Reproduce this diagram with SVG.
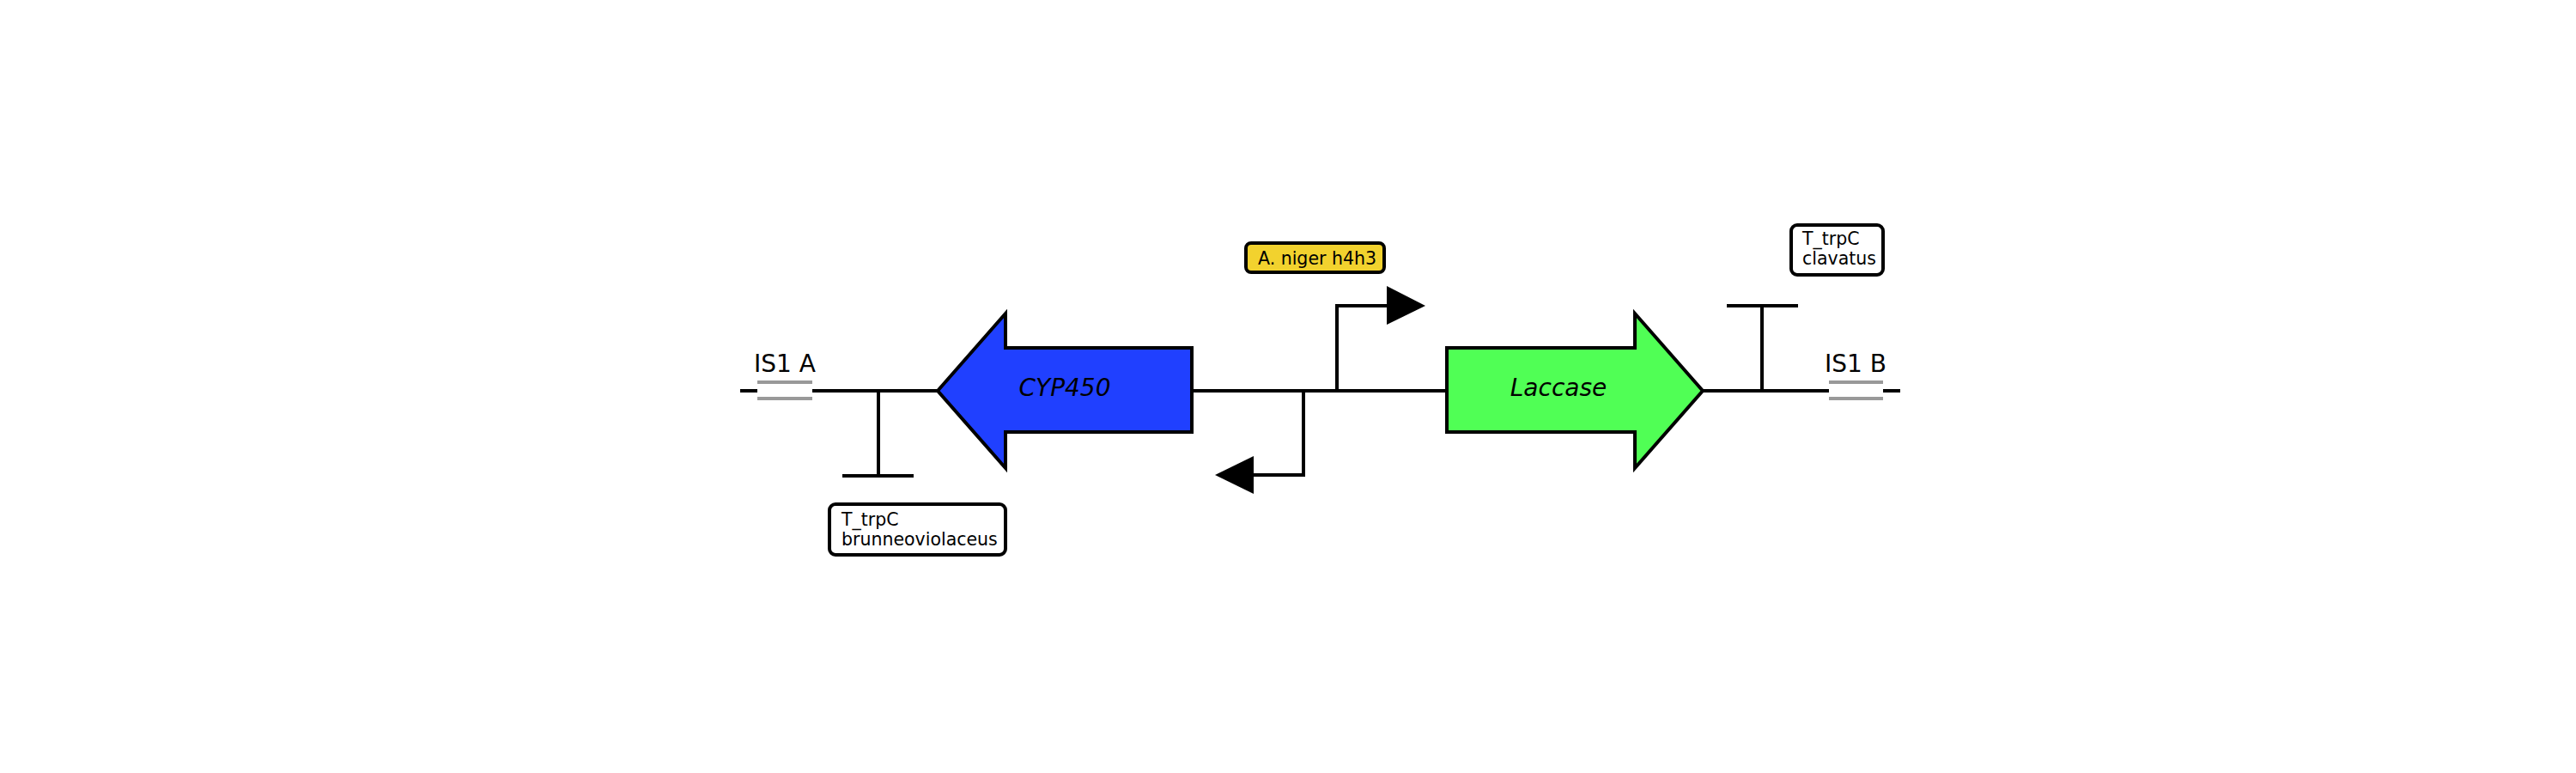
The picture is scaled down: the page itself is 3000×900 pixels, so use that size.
<svg xmlns="http://www.w3.org/2000/svg" width="3000" height="900" viewBox="0 0 3000 900">
<style>
.bb{stroke:#000;stroke-width:4;fill:none;stroke-linecap:butt}
.gr{stroke:#999;stroke-width:4;fill:none}
.gene{stroke:#000;stroke-width:4;stroke-linejoin:miter}
.lbl{font-family:"DejaVu Sans",sans-serif;fill:#000}
.box{stroke:#000;stroke-width:4}
</style>
<rect width="3000" height="900" fill="#fff"/>
<g id="connectors">
<line class="bb" x1="862" y1="455" x2="882" y2="455"/>
<line class="bb" x1="946" y1="455" x2="1092" y2="455"/>
<line class="bb" x1="1388" y1="455" x2="1685" y2="455"/>
<line class="bb" x1="1983" y1="455" x2="2130" y2="455"/>
<line class="bb" x1="2193" y1="455" x2="2213" y2="455"/>
</g>
<g id="is1a">
<line class="gr" x1="882" y1="445" x2="946" y2="445"/>
<line class="gr" x1="882" y1="464" x2="946" y2="464"/>
<text class="lbl" x="914" y="433" font-size="28" text-anchor="middle">IS1 A</text>
</g>
<g id="term1">
<path class="bb" d="M1023 455 V554 M981 554 H1064"/>
<rect class="box" x="966" y="587" width="205" height="59" rx="7" fill="#fff"/>
<text class="lbl" font-size="20.5"><tspan x="980" y="612">T_trpC</tspan><tspan x="980" y="635">brunneoviolaceus</tspan></text>
</g>
<g id="cyp450">
<polygon class="gene" fill="#2040ff" points="1092,455 1171,365 1171,405 1388,405 1388,503 1171,503 1171,545"/>
<text class="lbl" x="1240" y="461" font-size="28" font-style="italic" text-anchor="middle">CYP450</text>
</g>
<g id="promoter-rev">
<path class="bb" d="M1518 455 V553 H1460"/>
<polygon points="1460,531 1460,575 1415,553" fill="#000"/>
</g>
<g id="promoter-fwd">
<path class="bb" d="M1557 455 V356 H1615"/>
<polygon points="1615,333 1615,378 1660,356" fill="#000"/>
<rect class="box" x="1451" y="283" width="161" height="34" rx="6" fill="#f2d22e"/>
<text class="lbl" x="1534" y="308" font-size="20.5" text-anchor="middle">A. niger h4h3</text>
</g>
<g id="laccase">
<polygon class="gene" fill="#50ff55" points="1685,405 1904,405 1904,365 1983,455 1904,545 1904,503 1685,503"/>
<text class="lbl" x="1815" y="461" font-size="28" font-style="italic" text-anchor="middle">Laccase</text>
</g>
<g id="term2">
<path class="bb" d="M2052 455 V356 M2011 356 H2094"/>
<rect class="box" x="2086" y="262" width="107" height="58" rx="7" fill="#fff"/>
<text class="lbl" font-size="20.5"><tspan x="2099" y="285">T_trpC</tspan><tspan x="2099" y="308">clavatus</tspan></text>
</g>
<g id="is1b">
<line class="gr" x1="2130" y1="445" x2="2193" y2="445"/>
<line class="gr" x1="2130" y1="464" x2="2193" y2="464"/>
<text class="lbl" x="2161" y="433" font-size="28" text-anchor="middle">IS1 B</text>
</g>
</svg>
